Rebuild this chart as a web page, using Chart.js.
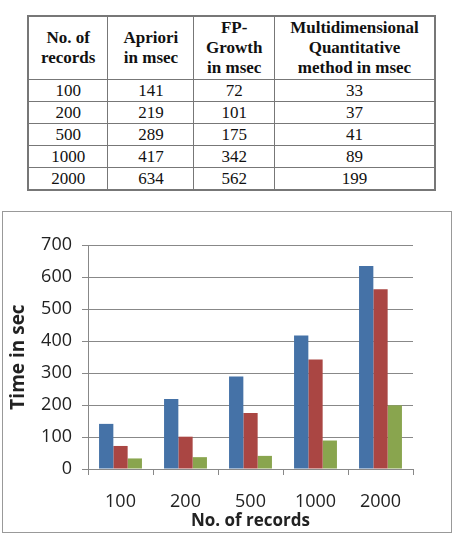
<!DOCTYPE html>
<html>
<head>
<meta charset="utf-8">
<script src="https://cdn.jsdelivr.net/npm/chart.js@4.4.0/dist/chart.umd.min.js"></script>
<style>
	body { margin: 0; background: #fff; width: 459px; height: 539px; position: relative; overflow: hidden; }
	#tbl { position: absolute; left: 27px; top: 15px; width: 409px; border-collapse: collapse;
		font-family: "Liberation Serif", serif; font-size: 17px; color: #111; border: 2px solid #777; }
	#tbl td, #tbl th { border: 1px solid #777; text-align: center; padding: 0; line-height: 20px; }
	#tbl th { height: 62px; font-weight: bold; }
	#tbl td { height: 21px; }
	#box { position: absolute; left: 2px; top: 211px; width: 448px; height: 320px; border: 1px solid #999; }
</style>
</head>
<body>
<table id="tbl">
	<thead><tr id="head"></tr></thead>
	<tbody id="body"></tbody>
</table>
<div id="box"><canvas id="chart" width="448" height="320"></canvas></div>
<script>
const records = ['100', '200', '500', '1000', '2000'];
const apriori = [141, 219, 289, 417, 634];
const fpGrowth = [72, 101, 175, 342, 562];
const multiQuant = [33, 37, 41, 89, 199];
const headers = ['No. of<br>records', 'Apriori<br>in msec', 'FP-<br>Growth<br>in msec', 'Multidimensional<br>Quantitative<br>method in msec'];
const colWidths = [80, 87, 81, 161];

// table
const head = document.getElementById('head');
headers.forEach((h, i) => {
	const th = document.createElement('th');
	th.innerHTML = h;
	th.style.width = colWidths[i] + 'px';
	head.appendChild(th);
});
const body = document.getElementById('body');
records.forEach((r, i) => {
	const row = document.createElement('tr');
	[r, apriori[i], fpGrowth[i], multiQuant[i]].forEach(v => {
		const td = document.createElement('td');
		td.innerHTML = v;
		row.appendChild(td);
	});
	body.appendChild(row);
});

// chart
const axisFont = { family: '"Open Sans", sans-serif', size: 18 };

new Chart(document.getElementById('chart').getContext('2d'), {
	type: 'bar',
	data: {
		labels: records,
		datasets: [
			{ label: 'Apriori', data: apriori, backgroundColor: '#4572A7' },
			{ label: 'FP-Growth', data: fpGrowth, backgroundColor: '#AA4643' },
			{ label: 'Multidimensional Quantitative', data: multiQuant, backgroundColor: '#89A54E' }
		]
	},
	options: {
		responsive: false,
		animation: false,
		layout: { padding: { top: 33, right: 38, left: 0, bottom: 0 } },
		plugins: { legend: { display: false }, tooltip: { enabled: false } },
		datasets: { bar: { categoryPercentage: 0.66, barPercentage: 1 } },
		scales: {
			x: {
				grid: { offset: true, drawOnChartArea: false, color: '#888', tickLength: 6 },
				border: { color: '#888' },
				ticks: { font: axisFont, color: '#222', padding: 16 },
				title: { display: true, text: 'No. of records', font: { family: '"Open Sans", sans-serif', size: 17, weight: 'bold' }, color: '#222', padding: { top: 0, bottom: 1 } },
				afterFit: s => { s.height = 63; }
			},
			y: {
				min: 0, max: 700,
				ticks: { stepSize: 100, font: axisFont, color: '#222', padding: 10 },
				grid: { color: '#888', tickLength: 6 },
				border: { color: '#888' },
				title: { display: true, text: 'Time in sec', font: { family: '"Open Sans", sans-serif', size: 19, weight: 'bold' }, color: '#222', padding: { top: 4, bottom: 0 } },
				afterFit: s => { s.width = 85; }
			}
		}
	}
});
</script>
</body>
</html>
